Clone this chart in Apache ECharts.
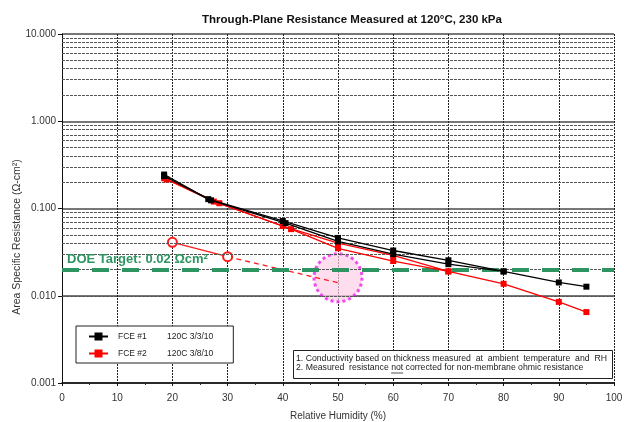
<!DOCTYPE html>
<html><head><meta charset="utf-8">
<script src="https://cdn.jsdelivr.net/npm/echarts@6/dist/echarts.min.js"></script>
<style>html,body{margin:0;padding:0;background:#fff}#c{width:624px;height:422px}</style>
</head><body><div id="c"></div>
<script>
// ---- data ----
var fce1a = [[18.5,0.245],[26.5,0.128],[40,0.072],[50,0.046],[60,0.033],[70,0.0255],[80,0.019],[90,0.0142],[95,0.0127]];
var fce1b = [[18.5,0.235],[27,0.124],[40.5,0.068],[50,0.042],[60,0.030],[70,0.023],[80,0.019]];
var fce2a = [[18.5,0.222],[27.5,0.120],[40,0.063],[50,0.040],[60,0.029],[70,0.019],[80,0.0137],[90,0.0085],[95,0.0065]];
var fce2b = [[19,0.215],[28.5,0.115],[41.5,0.058],[50,0.035],[60,0.025],[70,0.019]];
var openPts = [[20,0.041],[30,0.028]];
var projected = [[30,0.028],[50,0.0141]];
var highlight = [[50,0.0161]];
var doeTarget = 0.02;
var yTicks = [0.001,0.01,0.1,1,10];
var minorMult = [2,3,4,5,6,7,8,9];
var legendDates = {'FCE #1':'120C 3/3/10','FCE #2':'120C 3/8/10'};
var note1 = '1. Conductivity based on thickness measured  at  ambient  temperature  and  RH';
var note2 = ['2. Measured  resistance ', 'not', ' corrected for non-membrane ohmic resistance'];

var minorVals = [];
for (var i = 0; i < yTicks.length - 1; i++) {
  for (var j = 0; j < minorMult.length; j++) minorVals.push({yAxis: +(yTicks[i]*minorMult[j]).toPrecision(3)});
}

var FONT = 'Liberation Sans, Arial';
var noteSize = 8.7;
var ctx = document.createElement('canvas').getContext('2d');
ctx.font = noteSize + 'px ' + FONT;
var w0 = ctx.measureText(note2[0]).width, w1 = ctx.measureText(note2[1]).width;
var nx = 296, ny1 = 354, ny2 = 363.5;

var chart = echarts.init(document.getElementById('c'), null, {renderer:'canvas'});
var lineS = function(name, data, color, z){
  return {name:name, type:'line', data:data, symbol:'rect', symbolSize:6,
    itemStyle:{color:color}, lineStyle:{color:color, width:1.3}, z:z, animation:false};
};
chart.setOption({
  animation:false,
  title:{text:'Through-Plane Resistance Measured at 120°C, 230 kPa', left:347, textAlign:'center', top:9,
    textStyle:{fontFamily:FONT, fontSize:11.5, fontWeight:'bold', color:'#111'}},
  grid:{left:62, right:10, top:34, bottom:39, outerBoundsMode:'none', containLabel:false},
  xAxis:{type:'value', min:0, max:100, interval:10,
    name:'Relative Humidity (%)', nameLocation:'middle', nameGap:28,
    nameTextStyle:{fontFamily:FONT, fontSize:10, color:'#333'},
    axisLine:{lineStyle:{color:'#111', width:1.5}},
    axisTick:{show:true, length:3, lineStyle:{color:'#111'}},
    minorTick:{show:true, splitNumber:2, length:2, lineStyle:{color:'#333'}},
    axisLabel:{fontFamily:FONT, fontSize:10, color:'#333', margin:10},
    splitLine:{show:true, lineStyle:{color:'#222', type:[2,1], width:1}}},
  yAxis:{type:'log', logBase:10, min:0.001, max:10,
    axisLine:{show:true, lineStyle:{color:'#111'}},
    axisTick:{show:true, length:4, lineStyle:{color:'#111'}},
    axisLabel:{fontFamily:FONT, fontSize:10, color:'#333', margin:6,
      formatter:function(v){return v.toFixed(3);}},
    splitLine:{show:true, lineStyle:{color:'#777', width:2}}},
  legend:{data:['FCE #1','FCE #2'], orient:'vertical', left:76, top:326,
    backgroundColor:'#fff', borderColor:'#222', borderWidth:1, padding:[6,20,5,12], itemGap:8,
    itemWidth:19, itemHeight:10,
    textStyle:{fontFamily:FONT, fontSize:8.5, color:'#222',
      rich:{a:{width:49, padding:[0,0,0,5], fontSize:8.5, color:'#222'}, b:{fontSize:8.5, color:'#222'}}},
    formatter:function(n){return '{a|'+n+'}{b|'+legendDates[n]+'}';}},
  series:[
    {name:'grid-minor', type:'line', data:[], silent:true, z:1,
      markLine:{silent:true, symbol:['none','none'], label:{show:false},
        lineStyle:{color:'#555', type:[3,1], width:1}, data:minorVals}},
    {name:'highlight', type:'scatter', data:highlight, symbol:'circle', symbolSize:48, z:2, silent:true,
      itemStyle:{color:'rgba(252,205,230,0.85)', borderColor:'#ee22ee', borderWidth:3, borderType:[3,3]}},
    {name:'DOE', type:'line', data:[], z:3,
      markLine:{silent:true, symbol:['none','none'],
        lineStyle:{color:'#2e9462', type:[17,13], width:4},
        label:{show:true, position:'insideStartTop', formatter:'DOE Target: 0.02 Ωcm²', distance:[5,4],
          color:'#2e9462', fontFamily:FONT, fontSize:13, fontWeight:'bold'},
        data:[{yAxis:doeTarget}]}},
    {name:'proj', type:'line', data:projected, symbol:'none', z:4,
      lineStyle:{color:'#ff1a1a', type:[5,4], width:1.3}},
    {name:'open', type:'line', data:openPts, symbol:'emptyCircle', symbolSize:9, z:4,
      itemStyle:{color:'#ff1a1a', borderWidth:1.3}, lineStyle:{color:'#ff1a1a', width:1.3}},
    lineS('FCE #2', fce2b, '#ff0000', 5),
    lineS('FCE #2', fce2a, '#ff0000', 5),
    lineS('FCE #1', fce1b, '#000000', 6),
    lineS('FCE #1', fce1a, '#000000', 6)
  ],
  graphic:[
    {type:'text', x:17, y:237, rotation:Math.PI/2, style:{text:'Area Specific Resistance (Ω-cm²)',
      fontFamily:FONT, fontSize:10.5, fill:'#333', align:'center', verticalAlign:'middle'}},
    {type:'rect', shape:{x:293.5, y:350.5, width:319, height:28}, style:{fill:'#fff', stroke:'#222', lineWidth:1}, z:10},
    {type:'text', x:nx, y:ny1, z:11, style:{text:note1, fontFamily:FONT, fontSize:noteSize, fill:'#222'}},
    {type:'text', x:nx, y:ny2, z:11, style:{text:note2[0], fontFamily:FONT, fontSize:noteSize, fill:'#222'}},
    {type:'text', x:nx+w0, y:ny2, z:11, style:{text:note2[1], fontFamily:FONT, fontSize:noteSize, fill:'#222'}},
    {type:'text', x:nx+w0+w1, y:ny2, z:11, style:{text:note2[2], fontFamily:FONT, fontSize:noteSize, fill:'#222'}},
    {type:'line', z:11, shape:{x1:nx+w0, y1:ny2+9.5, x2:nx+w0+w1, y2:ny2+9.5}, style:{stroke:'#222', lineWidth:0.8}}
  ]
});
</script></body></html>
